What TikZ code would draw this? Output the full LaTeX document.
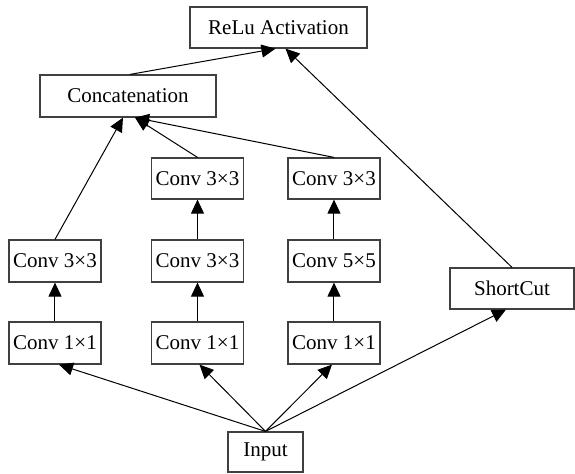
\documentclass[tikz,border=0pt]{standalone}
\usepackage{fontspec}
\setmainfont{Liberation Serif}
\usetikzlibrary{arrows.meta}
\tikzstyle{layer} = [rectangle, draw=black!75, line width=0.6pt, minimum width=46pt, minimum height=20.5pt, inner sep=0pt, text centered, font=\fontsize{10.5}{12}\selectfont]
\tikzstyle{arrow} = [line width=0.5pt, -{Triangle[length=7pt,width=6.5pt]}]

\begin{document}
\begin{tikzpicture}[x=0.5pt,y=-0.5pt]
\useasboundingbox (0,0) rectangle (575,473);
% output side
\node[layer, minimum width=88.5pt] (relu) at (278.5,27.5) {ReLu Activation};
\node[layer, minimum width=88pt, minimum height=21pt] (concat) at (128,96) {Concatenation};

% branch 1
\node[layer, minimum height=21pt] (conv1a) at (55,343) {Conv 1×1};
\node[layer, minimum height=21pt] (conv3a) at (55,261) {Conv 3×3};

% branch 2
\node[layer, minimum height=21pt] (conv1b) at (197.5,343) {Conv 1×1};
\node[layer, minimum height=21pt] (conv3b) at (197.5,261) {Conv 3×3};
\node[layer] (conv3c) at (197.5,178.5) {Conv 3×3};

% branch 3
\node[layer, minimum height=21pt] (conv1c) at (334,343) {Conv 1×1};
\node[layer, minimum height=21pt] (conv5c) at (334,261) {Conv 5×5};
\node[layer] (conv3d) at (334,178.5) {Conv 3×3};

% shortcut and input
\node[layer, minimum width=62pt] (short) at (512,288.5) {ShortCut};
\node[layer, minimum width=37.5pt, minimum height=20pt] (input) at (265.5,452) {Input};

% Arrows
\draw[arrow] (input.north) -- ([xshift=2pt]conv1a.south);
\draw[arrow] (input.north) -- ([xshift=1pt]conv1b.south);
\draw[arrow] (input.north) -- ([xshift=-1pt]conv1c.south);
\draw[arrow] (input.north) -- ([xshift=-3pt]short.south);

\draw[arrow] (conv1a) -- (conv3a);
\draw[arrow] (conv1b) -- (conv3b);
\draw[arrow] (conv3b) -- (conv3c);
\draw[arrow] (conv1c) -- (conv5c);
\draw[arrow] (conv5c) -- (conv3d);

\draw[arrow] (conv3a.north) -- ([xshift=-2.5pt]concat.south);
\draw[arrow] (conv3c.north) -- ([xshift=3.5pt]concat.south);
\draw[arrow] (conv3d.north) -- ([xshift=3.5pt]concat.south);

\draw[arrow] ([xshift=1pt]concat.north) -- ([xshift=-1.5pt]relu.south);
\draw[arrow] (short.north) -- ([xshift=3.5pt]relu.south);
\end{tikzpicture}
\end{document}
